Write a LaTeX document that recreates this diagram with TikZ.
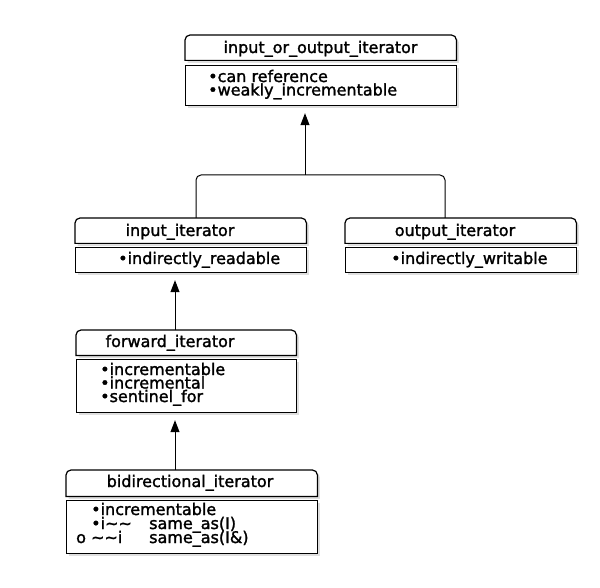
\documentclass[tikz,border=0pt]{standalone}
\usepackage{fontspec}
\setmainfont{DejaVu Sans}[BoldFont=DejaVu Sans, BoldFeatures={FakeBold=1.6}]
\usetikzlibrary{arrows.meta,shadows}
\begin{document}
\begin{tikzpicture}
[x=1pt, y=-1pt, font=\fontsize{16}{14}\selectfont\bfseries,
box/.style={rectangle, inner sep=0pt, anchor=north west},
body/.style={box, draw=black, fill=white, line width=1.2pt,
  drop shadow={shadow xshift=2.5pt, shadow yshift=-2.5pt, fill=black!25}},
outline/.style={draw=black, fill=white, line width=1.2pt,
  drop shadow={shadow xshift=2.5pt, shadow yshift=-2.5pt, fill=black!25}},
head/.style={anchor=base, inner sep=0pt},
txt/.style={anchor=base west, inner sep=0pt},
link/.style={draw=black, line width=1pt},
arr/.style={link, -{Triangle[length=12pt, width=9pt]}, shorten >=7pt}
]
\useasboundingbox (0,0) rectangle (600,588);

% title boxes
\node[box, minimum width=271pt, minimum height=25pt] (io) at (185,35) {};
\node[box, minimum width=231pt, minimum height=25pt] (in) at (75,218) {};
\node[box, minimum width=231pt, minimum height=25pt] (out) at (345,218) {};
\node[box, minimum width=220pt, minimum height=25pt] (fw) at (76,330) {};
\node[box, minimum width=251pt, minimum height=26pt] (bi) at (66,470) {};

\foreach \n in {io,in,out,fw,bi}
  \path[outline] (\n.south west) -- ([yshift=-5pt]\n.north west)
    arc[start angle=180, end angle=90, radius=5pt]
    -- ([xshift=-5pt]\n.north east)
    arc[start angle=90, end angle=0, radius=5pt]
    -- (\n.south east) -- cycle;

% body boxes
\node[body, minimum width=271pt, minimum height=40pt] (iob) at (185,65) {};
\node[body, minimum width=231pt, minimum height=25pt] (inb) at (75,247) {};
\node[body, minimum width=231pt, minimum height=25pt] (outb) at (345,247) {};
\node[body, minimum width=220pt, minimum height=53pt] (fwb) at (76,359) {};
\node[body, minimum width=251pt, minimum height=53pt] (bib) at (66,500) {};

% titles
\node[head] (iot) at (320.5,53) {input\_or\_output\_iterator};
\node[head] (int) at (180,236) {input\_iterator};
\node[head] (outt) at (455,236) {output\_iterator};
\node[head] (fwt) at (170,347) {forward\_iterator};
\node[head] (bit) at (190,487) {bidirectional\_iterator};

% members
\node[txt] (io1) at (208,82) {•can reference};
\node[txt] (io2) at (208,95.5) {•weakly\_incrementable};

\node[txt] (in1) at (118,264) {•indirectly\_readable};
\node[txt] (out1) at (391,264) {•indirectly\_writable};

\node[txt] (fw1) at (100,375) {•incrementable};
\node[txt] (fw2) at (100,388.5) {•incremental};
\node[txt] (fw3) at (100,402) {•sentinel\_for};

\node[txt] (bi1) at (91,515) {•incrementable};
\node[txt] (bi2) at (91,529) {•i\string~\string~};
\node[txt] (bi2r) at (149,529) {same\_as(I)};
\node[txt] (bi3) at (76,543) {o \string~\string~i};
\node[txt] (bi3r) at (149,543) {same\_as(I\&)};

% connectors
\coordinate (jl) at (196,175);
\coordinate (jm) at (305,175);
\coordinate (jr) at (445,175);
\coordinate (ax) at (175,300);

\draw[link, rounded corners=5pt] (jl |- in.north) -- (jl) -- (jr) -- (jr |- out.north);
\draw[arr] (jm) -- (jm |- iob.south);
\draw[arr] (ax |- fw.north) -- (ax |- inb.south);
\draw[arr] (ax |- bi.north) -- (ax |- fwb.south);
\end{tikzpicture}
\end{document}
